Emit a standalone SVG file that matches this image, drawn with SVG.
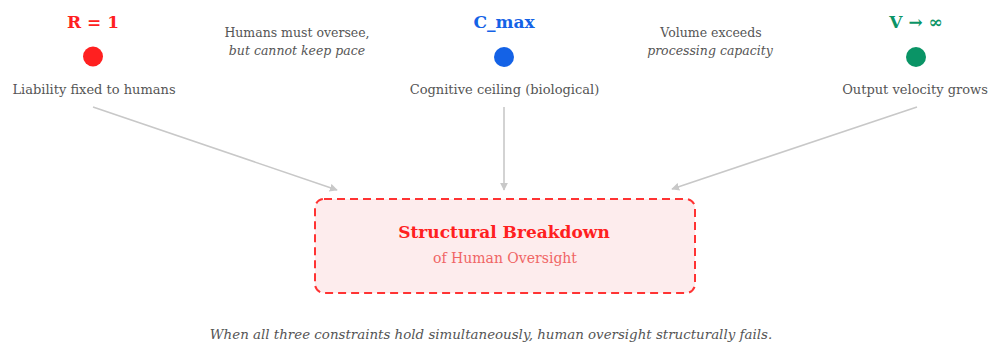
<svg xmlns="http://www.w3.org/2000/svg" width="989" height="344" viewBox="0 0 989 344">
<style>
text{font-family:"DejaVu Serif","Liberation Serif",serif;text-anchor:middle}
.lbl{font-size:13px;fill:#555}
.note{font-size:12.5px;fill:#555}
.it{font-style:italic}
.title{font-size:17px;font-weight:bold}
.conn{stroke:#c8c8c8;stroke-width:1.6;fill:none;marker-end:url(#ah)}
</style>
<defs>
<marker id="ah" viewBox="0 0 10 10" refX="9" refY="5" markerWidth="8" markerHeight="8" markerUnits="userSpaceOnUse" orient="auto">
<path d="M0,0 L10,5 L0,10 z" fill="#c8c8c8"/>
</marker>
</defs>
<rect width="989" height="344" fill="#fff"/>
<g id="connectors">
<line class="conn" x1="93" y1="107" x2="337" y2="190"/>
<line class="conn" x1="504" y1="107" x2="504" y2="190"/>
<line class="conn" x1="917" y1="107" x2="672" y2="189"/>
</g>
<g id="node-r">
<text class="title" x="93" y="28" fill="#ff2020" font-size="16">R = 1</text>
<circle cx="93" cy="56.5" r="10" fill="#ff2020"/>
<text class="lbl" x="94" y="94">Liability fixed to humans</text>
</g>
<g id="note-1">
<text class="note" x="297" y="37">Humans must oversee,</text>
<text class="note it" x="297" y="55">but cannot keep pace</text>
</g>
<g id="node-c">
<text class="title" x="504" y="28" fill="#1462e6" font-size="18.5">C_max</text>
<circle cx="504" cy="57" r="10" fill="#1462e6"/>
<text class="lbl" x="504.5" y="94">Cognitive ceiling (biological)</text>
</g>
<g id="note-2">
<text class="note" x="711" y="37">Volume exceeds</text>
<text class="note it" x="710" y="55">processing capacity</text>
</g>
<g id="node-v">
<text class="title" x="916" y="28" fill="#0a9466">V → ∞</text>
<circle cx="916" cy="57" r="10" fill="#0a9466"/>
<text class="lbl" x="915" y="94">Output velocity grows</text>
</g>
<g id="node-breakdown">
<rect x="315" y="199" width="380" height="94" rx="9" fill="#fdeced" stroke="#ff3333" stroke-width="2" stroke-dasharray="8 5"/>
<text class="title" x="504" y="238" fill="#ff2020">Structural Breakdown</text>
<text x="505" y="263" font-size="14" fill="#f06565">of Human Oversight</text>
</g>
<text class="it" x="491" y="339" font-size="13.4" fill="#555">When all three constraints hold simultaneously, human oversight structurally fails.</text>
</svg>
